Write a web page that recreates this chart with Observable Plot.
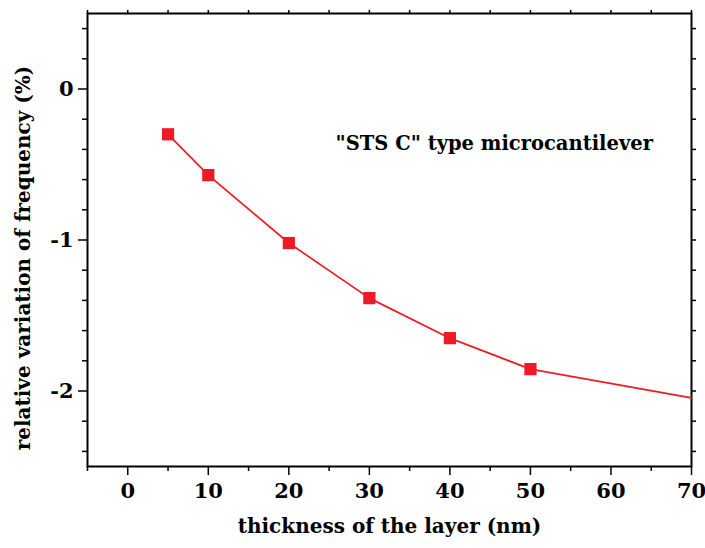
<!DOCTYPE html>
<html>
<head>
<meta charset="utf-8">
<script src="https://cdn.jsdelivr.net/npm/d3@7"></script>
<script src="https://cdn.jsdelivr.net/npm/@observablehq/plot@0.6"></script>
<style>
  html, body { margin: 0; padding: 0; background: #fff; overflow: hidden; }
  #chart svg { display: block; }
</style>
</head>
<body>
<div id="chart"></div>
<script>
// ---- data ----
const thickness = [5, 10, 20, 30, 40, 50];                       // nm
const variation = [-0.30, -0.57, -1.02, -1.385, -1.65, -1.855];   // %
// line continues to the right frame edge (no marker there)
const tailThickness = [70];
const tailVariation = [-2.045];

const xMajorTicks = [0, 10, 20, 30, 40, 50, 60, 70];
const xMinorTicks = [-5, 5, 15, 25, 35, 45, 55, 65];
const yMajorTicks = [0, -1, -2];
const yMinorTicks = [0.4, 0.2, -0.2, -0.4, -0.6, -0.8, -1.2, -1.4, -1.6, -1.8, -2.2, -2.4];

const xLabel = "thickness of the layer (nm)";
const yLabel = "relative variation of frequency (%)";
const annotationText = ["\"STS C\" type microcantilever"];
const annotationX = [25.8];
const annotationY = [-0.36];

const points = thickness.map((t, i) => ({t, v: variation[i]}));
const linePts = points.concat(tailThickness.map((t, i) => ({t, v: tailVariation[i]})));
const annotation = annotationText.map((s, i) => ({s, x: annotationX[i], y: annotationY[i]}));

const W = 705, H = 548;
const mL = 87, mR = 14, mT = 13, mB = 82;
const innerW = W - mL - mR, innerH = H - mT - mB;
const red = "#ed1c24";
const serif = "DejaVu Serif";

const chart = Plot.plot({
  width: W,
  height: H,
  marginLeft: mL,
  marginRight: mR,
  marginTop: mT,
  marginBottom: mB,
  style: {background: "#fff", color: "#000"},
  x: {domain: [-5, 70]},
  y: {domain: [-2.5, 0.5]},
  marks: [
    // minor ticks (outward) left
    Plot.tickY(yMinorTicks, {y: d => d, insetLeft: -5, insetRight: innerW, stroke: "#000", strokeWidth: 1.5}),
    // right ticks (outward)
    Plot.tickY(yMajorTicks.concat(yMinorTicks), {y: d => d, insetLeft: innerW, insetRight: -5, stroke: "#000", strokeWidth: 1.5}),
    // bottom minor ticks
    Plot.tickX(xMinorTicks, {x: d => d, insetTop: innerH, insetBottom: -5, stroke: "#000", strokeWidth: 1.5}),
    // top ticks
    Plot.tickX(xMajorTicks.concat(xMinorTicks), {x: d => d, insetTop: -3, insetBottom: innerH, stroke: "#000", strokeWidth: 1.5}),
    Plot.axisX(xMajorTicks, {
      anchor: "bottom", tickSize: 9, tickPadding: 8, strokeWidth: 1.5,
      tickFormat: d => String(d), fontSize: 21, fontWeight: "bold", fontFamily: serif, label: null
    }),
    Plot.axisY(yMajorTicks, {
      anchor: "left", tickSize: 9, tickPadding: 5, strokeWidth: 1.5,
      tickFormat: d => String(d), fontSize: 21, fontWeight: "bold", fontFamily: serif, label: null
    }),
    Plot.frame({stroke: "#000", strokeWidth: 2}),
    Plot.line(linePts, {x: "t", y: "v", stroke: red, strokeWidth: 1.7}),
    Plot.dot(points, {x: "t", y: "v", symbol: "square", r: 6.9, fill: red, stroke: "none"}),
    Plot.text(annotation, {
      x: "x", y: "y", text: "s", textAnchor: "start",
      fontSize: 19.5, fontWeight: "bold", fontFamily: serif, fill: "#000"
    }),
    Plot.text([xLabel], {
      frameAnchor: "bottom", textAnchor: "middle", dy: 66,
      fontSize: 20, fontWeight: "bold", fontFamily: serif, fill: "#000"
    }),
    Plot.text([yLabel], {
      frameAnchor: "left", textAnchor: "middle", rotate: -90, dx: -64, dy: 18,
      fontSize: 20, fontWeight: "bold", fontFamily: serif, fill: "#000"
    })
  ]
});

document.getElementById("chart").appendChild(chart);
</script>
</body>
</html>
